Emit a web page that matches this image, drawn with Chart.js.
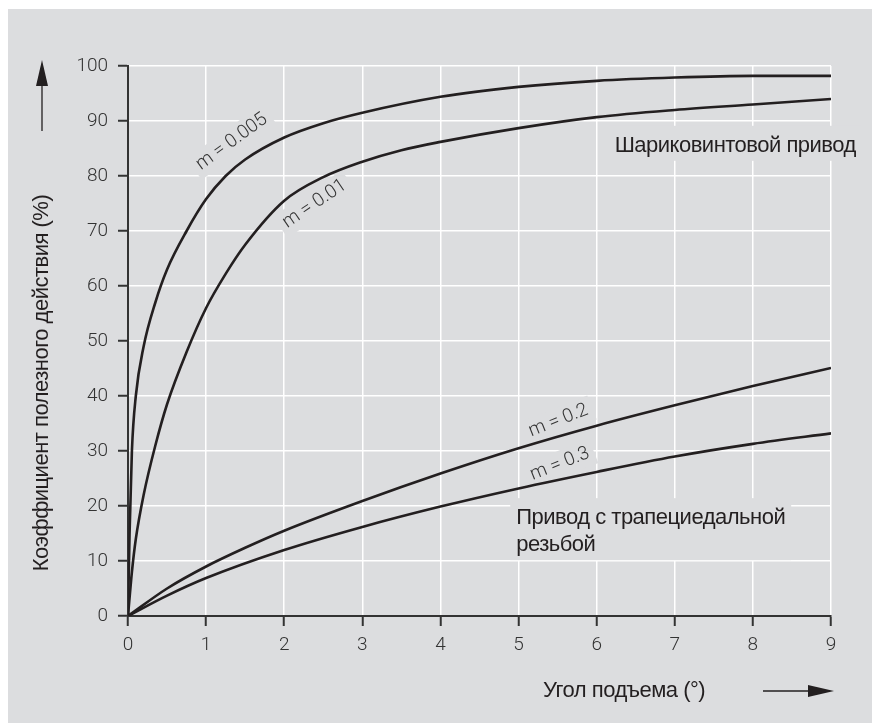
<!DOCTYPE html>
<html>
<head>
<meta charset="utf-8">
<script src="https://cdn.jsdelivr.net/npm/chart.js@4.4.1/dist/chart.umd.min.js"></script>
<style>
  html, body { margin: 0; padding: 0; background: #fff; }
</style>
</head>
<body>
<canvas id="chart" width="872" height="723"></canvas>
<script>
// lead angle (deg) -> efficiency (%)
const angle005 = [0, 0.02, 0.05, 0.1, 0.2, 0.35, 0.5, 0.75, 1, 1.25, 1.5, 2, 2.5, 3, 4, 5, 6, 7, 8, 9];
const eff005 = [0, 15, 30, 40, 49, 57, 63, 70, 75.8, 80, 83, 87, 89.6, 91.5, 94.4, 96.2, 97.3, 97.9, 98.2, 98.2];

const angle01 = [0, 0.05, 0.1, 0.2, 0.35, 0.5, 0.75, 1, 1.25, 1.5, 2, 2.5, 3, 3.5, 4, 5, 6, 7, 8, 9];
const eff01 = [0, 8, 14, 22, 31, 38.5, 48, 56, 62.2, 67.5, 75.5, 79.8, 82.6, 84.7, 86.2, 88.7, 90.7, 92.0, 93.0, 94.0];

const angle2 = [0, 0.5, 1, 1.5, 2, 3, 4, 5, 6, 7, 8, 9];
const eff2 = [0, 5.0, 9.0, 12.4, 15.5, 20.9, 25.9, 30.5, 34.6, 38.3, 41.8, 45.1];

const angle3 = [0, 0.5, 1, 2, 3, 4, 5, 6, 7, 8, 9];
const eff3 = [0, 3.7, 6.9, 12.0, 16.2, 19.9, 23.2, 26.2, 29.0, 31.3, 33.2];

const xTicks = [0, 1, 2, 3, 4, 5, 6, 7, 8, 9];
const yTicks = [0, 10, 20, 30, 40, 50, 60, 70, 80, 90, 100];

const BG = '#dcdddf';
const INK = '#231f20';
const TICK_FONT = '300 19px Roboto, "Liberation Sans", sans-serif';
const LABEL_FONT = '22px "Liberation Sans", Arial, sans-serif';
const LABEL_SPACING = '-0.5px';

const toPoints = (xs, ys) => xs.map((x, i) => ({ x, y: ys[i] }));

// curve labels, placed in data coordinates
const curveLabels = [
  { text: 'm = 0.005', x: 1.33, y: 86.2, rot: -36 },
  { text: 'm = 0.01', x: 2.39, y: 74.9, rot: -34 },
  { text: 'm = 0.2', x: 5.51, y: 35.5, rot: -21.5 },
  { text: 'm = 0.3', x: 5.53, y: 27.6, rot: -21.5 },
];

// group captions: left edge in data x, first baseline in data y
const groupLabels = [
  { lines: ['Шариковинтовой привод'], x: 6.23, y: 84.4 },
  { lines: ['Привод с трапециедальной', 'резьбой'], x: 4.97, y: 16.7 },
];

const backgroundPlugin = {
  id: 'bgPanel',
  beforeDraw(chart) {
    const { ctx, width, height } = chart;
    ctx.save();
    ctx.fillStyle = '#fff';
    ctx.fillRect(0, 0, width, height);
    ctx.fillStyle = BG;
    ctx.fillRect(8, 9, width - 8, height - 9);
    ctx.restore();
  },
};

const labelsPlugin = {
  id: 'curveText',
  beforeDatasetsDraw(chart) {
    // knock the grid out behind the labels
    const { ctx, scales: { x, y } } = chart;
    ctx.save();
    ctx.fillStyle = BG;
    ctx.font = TICK_FONT;
    curveLabels.forEach((l) => {
      const w = ctx.measureText(l.text).width + 10;
      ctx.save();
      ctx.translate(x.getPixelForValue(l.x), y.getPixelForValue(l.y));
      ctx.rotate(l.rot * Math.PI / 180);
      ctx.fillRect(-w / 2, -13, w, 26);
      ctx.restore();
    });
    ctx.font = LABEL_FONT;
    ctx.letterSpacing = LABEL_SPACING;
    groupLabels.forEach((g) => {
      const left = x.getPixelForValue(g.x);
      const base = y.getPixelForValue(g.y);
      const w = Math.max(...g.lines.map((s) => ctx.measureText(s).width));
      ctx.fillRect(left - 6, base - 26, w + 12, 27 * g.lines.length + 8);
    });
    ctx.restore();
  },
  afterDatasetsDraw(chart) {
    const { ctx, scales: { x, y }, chartArea } = chart;
    ctx.save();
    ctx.fillStyle = '#333';
    ctx.font = TICK_FONT;
    ctx.textAlign = 'center';
    ctx.textBaseline = 'middle';
    curveLabels.forEach((l) => {
      ctx.save();
      ctx.translate(x.getPixelForValue(l.x), y.getPixelForValue(l.y));
      ctx.rotate(l.rot * Math.PI / 180);
      ctx.fillText(l.text, 0, 0);
      ctx.restore();
    });

    ctx.fillStyle = INK;
    ctx.font = LABEL_FONT;
    ctx.letterSpacing = LABEL_SPACING;
    ctx.textAlign = 'left';
    ctx.textBaseline = 'alphabetic';
    groupLabels.forEach((g) => {
      const left = x.getPixelForValue(g.x);
      const base = y.getPixelForValue(g.y);
      g.lines.forEach((s, i) => ctx.fillText(s, left, base + i * 27));
    });

    // axis titles with arrows
    const yMid = (chartArea.top + chartArea.bottom) / 2 + 42;
    ctx.save();
    ctx.translate(42, yMid);
    ctx.rotate(-Math.PI / 2);
    ctx.textAlign = 'center';
    ctx.textBaseline = 'middle';
    ctx.fillText('Коэффициент полезного действия (%)', 0, 0);
    ctx.restore();

    ctx.strokeStyle = INK;
    ctx.lineWidth = 1.3;
    ctx.beginPath();
    ctx.moveTo(42, 131);
    ctx.lineTo(42, 84);
    ctx.stroke();
    ctx.beginPath();
    ctx.moveTo(42, 60);
    ctx.lineTo(48, 86);
    ctx.lineTo(36, 86);
    ctx.closePath();
    ctx.fill();

    ctx.textAlign = 'left';
    ctx.textBaseline = 'middle';
    ctx.fillText('Угол подъема (°)', 543, 691);
    ctx.beginPath();
    ctx.moveTo(763, 691);
    ctx.lineTo(810, 691);
    ctx.stroke();
    ctx.beginPath();
    ctx.moveTo(834, 691);
    ctx.lineTo(808, 685);
    ctx.lineTo(808, 697);
    ctx.closePath();
    ctx.fill();
    ctx.restore();
  },
};

const lineStyle = {
  borderColor: INK,
  borderWidth: 2.6,
  pointRadius: 0,
  fill: false,
  cubicInterpolationMode: 'monotone',
};

const tickFont = { family: 'Roboto, "Liberation Sans", sans-serif', size: 19, weight: 300 };

new Chart(document.getElementById('chart'), {
  type: 'line',
  data: {
    datasets: [
      { label: 'm = 0.005', data: toPoints(angle005, eff005), ...lineStyle },
      { label: 'm = 0.01', data: toPoints(angle01, eff01), ...lineStyle },
      { label: 'm = 0.2', data: toPoints(angle2, eff2), ...lineStyle },
      { label: 'm = 0.3', data: toPoints(angle3, eff3), ...lineStyle },
    ],
  },
  plugins: [backgroundPlugin, labelsPlugin],
  options: {
    responsive: false,
    animation: false,
    devicePixelRatio: 1,
    layout: { padding: { top: 66, right: 41, bottom: 0, left: 0 } },
    plugins: {
      legend: { display: false },
      tooltip: { enabled: false },
    },
    scales: {
      x: {
        type: 'linear',
        min: 0,
        max: 9,
        afterBuildTicks(scale) {
          scale.ticks = xTicks.map((v) => ({ value: v }));
        },
        afterFit(scale) {
          scale.height = 107;
        },
        ticks: { color: '#333', font: tickFont, padding: 8, maxRotation: 0 },
        grid: { color: '#fff', lineWidth: 1.5, tickColor: '#333', tickLength: 10, tickWidth: 2 },
        border: { color: '#333', width: 2 },
      },
      y: {
        type: 'linear',
        min: 0,
        max: 100,
        afterBuildTicks(scale) {
          scale.ticks = yTicks.map((v) => ({ value: v }));
        },
        afterFit(scale) {
          scale.width = 128;
        },
        ticks: { color: '#333', font: tickFont, padding: 10 },
        grid: { color: '#fff', lineWidth: 1.5, tickColor: '#333', tickLength: 10, tickWidth: 2 },
        border: { color: '#333', width: 2 },
      },
    },
  },
});
</script>
</body>
</html>
